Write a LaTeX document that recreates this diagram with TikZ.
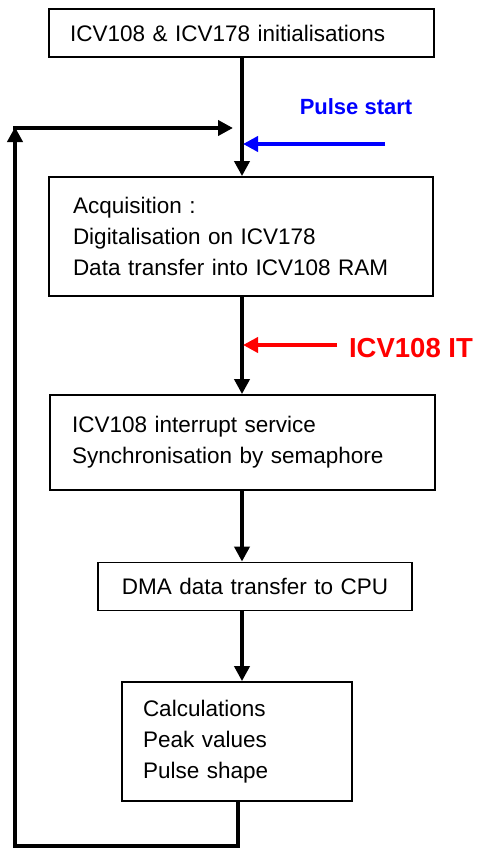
\documentclass[tikz,border=0pt]{standalone}
\usepackage{fontspec}
\setmainfont{Liberation Sans}
\usetikzlibrary{arrows.meta}
\begin{document}
\begin{tikzpicture}[x=1pt,y=-1pt,
  box/.style={draw=black,line width=1.8pt,fill=white,inner xsep=21pt,inner ysep=0pt,
    align=left,font=\fontsize{22.5}{31}\selectfont},
  flow/.style={line width=4pt,-{Triangle[length=15pt,width=15pt]}},
  plain/.style={line width=4pt},
  lbl/.style={font=\bfseries}]
\useasboundingbox (0,0) rectangle (478,848);
\node[box,text width=343pt,minimum height=48pt] (b1) at (241.5,33) {ICV108 \& ICV178 initialisations};
\node[box,minimum height=119pt,inner xsep=24pt,text width=336pt] (b2) at (241,236.5) {Acquisition :\\Digitalisation on ICV178\\Data transfer into ICV108 RAM};
\node[box,inner xsep=22pt,text width=341pt,minimum height=95pt] (b3) at (242.5,442.5) {ICV108 interrupt service\\Synchronisation by semaphore};
\node[box,align=center,text width=272pt,minimum height=48pt] (b4) at (255,586.5) {DMA data transfer to CPU};
\node[box,text width=188pt,minimum height=119pt] (b5) at (237,741.5) {Calculations\\Peak values\\Pulse shape};
\coordinate (cx) at (242,0);
\coordinate (cb) at (238,0);
\coordinate (lbot) at (15,846);
\coordinate (ltop) at (15,127);
\coordinate (lstart) at (13,128);
\coordinate (lend) at (233,128);
\coordinate (pj) at (243,144);
\coordinate (ps) at (385,144);
\coordinate (ij) at (243,345);
\coordinate (is) at (337,345);
\draw[flow] (b1.south -| cx) -- (b2.north -| cx);
\draw[flow] (b2.south -| cx) -- (b3.north -| cx);
\draw[flow] (b3.south -| cx) -- (b4.north -| cx);
\draw[flow] (b4.south -| cx) -- (b5.north -| cx);
\draw[flow] (b5.south -| cb) -- (lbot -| cb) -- (lbot) -- (ltop);
\draw[flow] (lstart) -- (lend);
\draw[flow,blue] (ps) -- (pj);
\draw[flow,red] (is) -- (ij);
\node[lbl,text=blue,font=\bfseries\fontsize{22}{26}\selectfont] (pl) at (356,107) {Pulse start};
\node[lbl,text=red,font=\bfseries\fontsize{27.5}{32}\selectfont] (il) at (411,348) {ICV108 IT};
\end{tikzpicture}
\end{document}
